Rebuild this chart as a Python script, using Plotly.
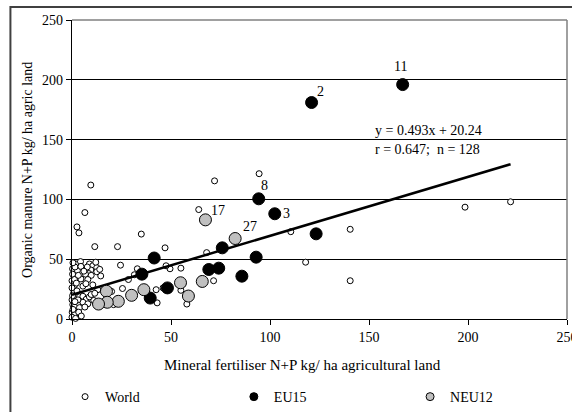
import plotly.graph_objects as go

# ---------------- data ----------------
world_x = [221.5, 198.5, 140.5, 140.5, 118, 110.5, 94.5, 72, 64, 68, 71.5, 58, 55, 55, 49.5, 47.5,
           47, 46, 42.5, 43, 35, 33, 31.5, 28.5, 25.5, 24.5, 23, 21, 20, 13, 11.5, 9.5, 6.5, 2.5,
           3.5, 14.5,
           0.3, 2, 4.3, 2.7, 8.8, 10.5, 12.5, 9.5, 7.7, 12.5, 8.5, 6.8, 9.7, 0.3, 0, 1.3, 4.5, 8,
           1.2, 0, 0.8, 3.8, 5.5, 7.2, 8.8, 9.7, 0, 0.4, 2.9, 5.5, 8, 1.3, 3.8, 0.1, 1.3, 3.4, 0,
           1.8, 0.5, 2.5, 5.5, 11, 11.5, 6.5, 2.2, 3.2, 0.3, 10.5, 12, 14, 1.5, 4.5, 6, 0.5, 7, 3,
           1.5, 4.7]
world_y = [98, 93.5, 75, 32, 47.5, 73, 121.5, 115.5, 91.5, 55.5, 32, 12.5, 42.5, 24, 42, 44.5,
           59.5, 26, 24.5, 13.5, 71, 42, 37, 33, 25.5, 45, 60.5, 12, 23, 24.5, 60.5, 112, 89, 77,
           72, 36,
           42, 46, 48, 40.5, 46, 44.5, 43, 41, 43.5, 39.5, 38, 37.5, 36.5, 37.5, 32, 33, 33.5, 33,
           28, 26, 21.5, 18.5, 19, 16.5, 18.5, 20.5, 16, 12, 12.7, 14, 12.7, 10, 9.5, 5.7, 3.5, 5.7,
           1.5, 0.5, 8, 23.5, 27.5, 15.5, 21.5, 10, 30, 36.5, 19.5, 28.5, 47.5, 41.5, 43.5, 44, 40,
           47, 29.5, 16, 14.5, 2.5]

eu15_x = [167, 121, 94.3, 102.4, 123.3, 93, 75.9, 69.1, 74.1, 85.8, 41.5, 35.3, 39.5, 48.2]
eu15_y = [196, 181, 100.5, 88, 71.2, 51.7, 59.5, 41.4, 42.5, 35.8, 51, 37.5, 17.5, 26]
eu15_labels = ["11", "2", "8", "3", "", "", "", "", "", "", "", "", "", ""]

neu12_x = [67.4, 82.4, 65.8, 58.8, 54.8, 36.3, 30.1, 23.4, 17.4, 17.8, 13.4]
neu12_y = [82.9, 67.3, 31.4, 19.2, 30.3, 24.5, 19.8, 14.8, 23.2, 14, 12.5]
neu12_labels = ["17", "27", "", "", "", "", "", "", "", "", ""]

slope = 0.493
intercept = 20.24
eq_text = "y = 0.493x + 20.24"
stat_text = "r = 0.647;\u00a0 n = 128"

x_ticks = [0, 50, 100, 150, 200, 250]
y_ticks = [0, 50, 100, 150, 200, 250]

# ---------------- styling ----------------
FONT = "Liberation Serif"
label_shift = {"11": (-2, -18), "2": (9, -11), "8": (6, -13), "3": (12, 0),
               "17": (13, -9), "27": (15, -12)}

fig = go.Figure()

all_x = world_x + eu15_x + neu12_x
fx = [min(all_x), max(all_x)]
fy = [slope * v + intercept for v in fx]

fig.add_trace(go.Scatter(x=world_x, y=world_y, mode="markers", showlegend=False, cliponaxis=False,
                         marker=dict(size=6, color="white", line=dict(color="black", width=1))))
fig.add_trace(go.Scatter(x=fx, y=fy, mode="lines", showlegend=False, cliponaxis=False,
                         line=dict(color="black", width=2.5)))
fig.add_trace(go.Scatter(x=eu15_x, y=eu15_y, mode="markers", showlegend=False, cliponaxis=False,
                         marker=dict(size=12, color="black", line=dict(color="black", width=1))))
fig.add_trace(go.Scatter(x=neu12_x, y=neu12_y, mode="markers", showlegend=False, cliponaxis=False,
                         marker=dict(size=12, color="#c0c0c0", line=dict(color="black", width=1))))

# legend entries
fig.add_trace(go.Scatter(x=[None], y=[None], mode="markers", name="World", legend="legend",
                         marker=dict(size=6, color="white", line=dict(color="black", width=1))))
fig.add_trace(go.Scatter(x=[None], y=[None], mode="markers", name="EU15", legend="legend2",
                         marker=dict(size=8, color="black", line=dict(color="black", width=1))))
fig.add_trace(go.Scatter(x=[None], y=[None], mode="markers", name="NEU12", legend="legend3",
                         marker=dict(size=8, color="#c0c0c0", line=dict(color="black", width=1))))

annotations = []
for xs, ys, labs in [(eu15_x, eu15_y, eu15_labels), (neu12_x, neu12_y, neu12_labels)]:
    for x, y, t in zip(xs, ys, labs):
        if t:
            dx, dy = label_shift[t]
            annotations.append(dict(x=x, y=y, xref="x", yref="y", text=t, showarrow=False,
                                    xshift=dx, yshift=-dy, font=dict(family=FONT, size=14, color="black")))

annotations.append(dict(x=0.608, y=0.632, xref="paper", yref="paper", text=eq_text, showarrow=False,
                        xanchor="left", yanchor="middle", font=dict(family=FONT, size=14, color="black")))
annotations.append(dict(x=0.608, y=0.568, xref="paper", yref="paper", text=stat_text, showarrow=False,
                        xanchor="left", yanchor="middle", font=dict(family=FONT, size=14, color="black")))
annotations.append(dict(x=-0.09, y=0.5, xref="paper", yref="paper", text="Organic manure N+P kg/ ha agric land",
                        textangle=-90, showarrow=False, xanchor="center", yanchor="middle",
                        font=dict(family=FONT, size=14, color="black")))
annotations.append(dict(x=0.465, y=-0.154, xref="paper", yref="paper",
                        text="Mineral fertiliser N+P kg/ ha agricultural land",
                        showarrow=False, xanchor="center", yanchor="middle",
                        font=dict(family=FONT, size=15, color="black")))

shapes = [
    # outer chart frame
    dict(type="rect", xref="paper", yref="paper", x0=-0.1244, y0=-0.6, x1=1.3, y1=1.0436,
         line=dict(color="#404040", width=2), layer="below"),
    # plot area top/right border (gray)
    dict(type="line", xref="paper", yref="paper", x0=0, x1=1, y0=1, y1=1,
         line=dict(color="#808080", width=1.5), layer="above"),
    dict(type="line", xref="paper", yref="paper", x0=1, x1=1, y0=0, y1=1,
         line=dict(color="#808080", width=1.5), layer="above"),
]

leg_common = dict(orientation="h", yanchor="middle", y=-0.261, xanchor="left",
                  font=dict(family=FONT, size=14, color="black"), bgcolor="rgba(0,0,0,0)",
                  itemwidth=30, borderwidth=0)

fig.update_layout(
    width=572, height=412,
    margin=dict(l=72, r=5, t=20, b=93, autoexpand=False),
    paper_bgcolor="white", plot_bgcolor="white",
    font=dict(family=FONT, size=14, color="black"),
    xaxis=dict(range=[0, 250], tickvals=x_ticks, ticks="outside", ticklen=5, tickcolor="black",
               showline=True, linecolor="black", linewidth=1.2, showgrid=False, zeroline=False,
               ticklabeloverflow="allow", automargin=False,
               tickfont=dict(family=FONT, size=14, color="black")),
    yaxis=dict(range=[0, 250], tickvals=y_ticks, ticks="outside", ticklen=5, tickcolor="black",
               showline=True, linecolor="black", linewidth=1.2, showgrid=True, gridcolor="black",
               gridwidth=1, zeroline=False, automargin=False,
               tickfont=dict(family=FONT, size=14, color="black")),
    legend=dict(x=-0.014, **leg_common),
    legend2=dict(x=0.327, **leg_common),
    legend3=dict(x=0.683, **leg_common),
    annotations=annotations,
    shapes=shapes,
)

fig.write_html("out.html")
